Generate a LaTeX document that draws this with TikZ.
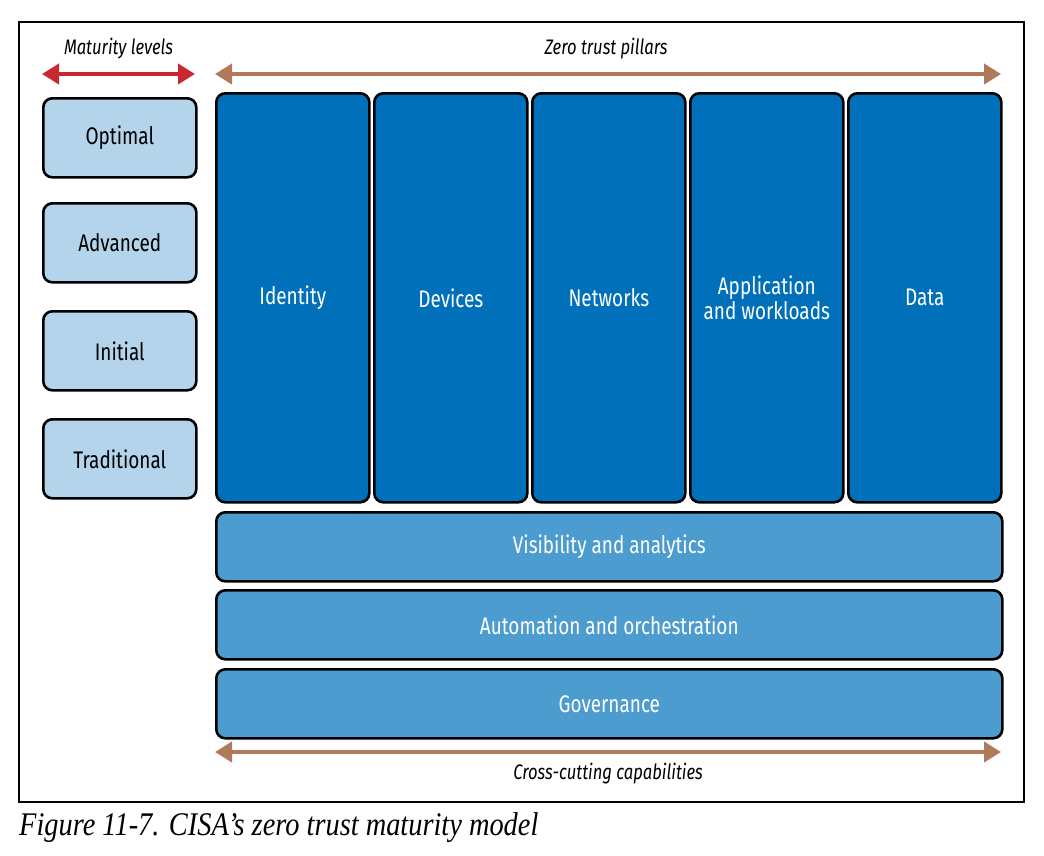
\documentclass[tikz,border=0pt]{standalone}
\usepackage{fontspec}
\setmainfont{Fira Sans}[FakeStretch=0.79]
\newfontfamily\capfont{Liberation Serif}[FakeStretch=0.86]
\usetikzlibrary{arrows.meta}
\definecolor{pillar}{HTML}{0070BB}
\definecolor{barblue}{HTML}{4C9CCF}
\definecolor{lightblue}{HTML}{B3D4EA}
\definecolor{redarrow}{HTML}{C8282F}
\definecolor{brownarrow}{HTML}{B07A5A}
\tikzset{
  box/.style={draw=black, line width=2.6pt, rounded corners=9pt, inner sep=0pt, anchor=north west, align=center},
  levelbox/.style={box, fill=lightblue, minimum width=153pt, minimum height=79pt, font=\fontsize{24}{26}\selectfont},
  pillarbox/.style={box, fill=pillar, text=white, minimum width=153pt, minimum height=409pt, font=\fontsize{24}{25}\selectfont},
  barbox/.style={box, fill=barblue, text=white, minimum width=786pt, minimum height=69pt, font=\fontsize{24}{26}\selectfont},
  dblarrow/.style={line width=4pt, {Triangle[length=17pt,width=20pt]}-{Triangle[length=17pt,width=20pt]}},
  lbl/.style={font=\fontsize{21}{22}\selectfont\itshape, inner sep=0pt}
}
\begin{document}
\begin{tikzpicture}[x=1pt,y=-1pt]
\useasboundingbox (0,0) rectangle (1044,855);
\draw[line width=1.3pt] (19,22) rectangle (1024,802);
% maturity levels
\coordinate (rl) at (42,74);
\coordinate (rr) at (195,74);
\draw[dblarrow, redarrow] (rl) -- (rr);
\node[lbl] (mlab) at (118.5,49) {Maturity levels};
\node[levelbox] (opt) at (42,97) {Optimal};
\node[levelbox] (adv) at (42,202) {Advanced};
\node[levelbox] (ini) at (42,310) {Initial};
\node[levelbox] (tra) at (42,418) {Traditional};
% pillars
\coordinate (tl) at (215,74);
\coordinate (tr) at (1001,74);
\draw[dblarrow, brownarrow] (tl) -- (tr);
\node[lbl] (plab) at (606,49) {Zero trust pillars};
\node[pillarbox] (idn) at (215,92) {Identity};
\node[pillarbox] (dev) at (373,92) {Devices};
\node[pillarbox] (net) at (531,92) {Networks};
\node[pillarbox] (app) at (689,92) {Application\\and workloads};
\node[pillarbox] (dat) at (847,92) {Data};
% cross-cutting
\node[barbox] (vis) at (215,511) {Visibility and analytics};
\node[barbox] (aut) at (215,589) {Automation and orchestration};
\node[barbox] (gov) at (215,668) {Governance};
\coordinate (bl) at (215,752);
\coordinate (br) at (1001,752);
\draw[dblarrow, brownarrow] (bl) -- (br);
\node[lbl] (clab) at (608,774) {Cross-cutting capabilities};
% caption
\node[anchor=west, inner sep=0pt, font=\capfont\fontsize{33}{35}\selectfont\itshape] (cap) at (19,828) {Figure 11-7. CISA’s zero trust maturity model};
\end{tikzpicture}
\end{document}
